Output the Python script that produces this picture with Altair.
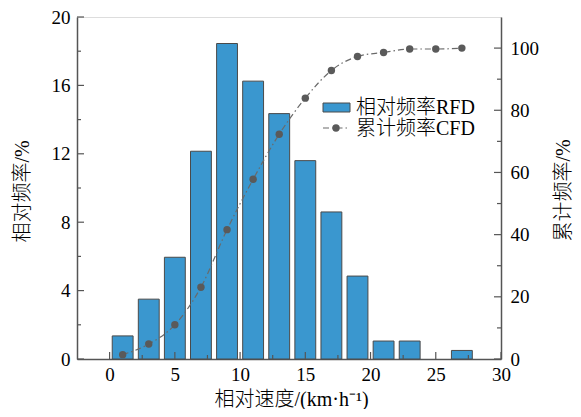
import altair as alt
import pandas as pd

# ---------------- data ----------------
speed = [1, 3, 5, 7, 9, 11, 13, 15, 17, 19, 21, 23, 25, 27]
rfd = [1.35, 3.5, 5.95, 12.15, 18.45, 16.25, 14.35, 11.6, 8.6, 4.85, 1.05, 1.05, 0, 0.5]
cfd = [1.4, 4.8, 11.0, 23.1, 41.6, 57.8, 72.3, 83.9, 92.8, 97.3, 98.6, 99.7, 99.7, 100]
series_names = ["相对频率RFD", "累计频率CFD"]
x_major = [0, 5, 10, 15, 20, 25, 30]
x_minor = [2.5, 7.5, 12.5, 17.5, 22.5, 27.5]
yl_major = [0, 4, 8, 12, 16, 20]
yl_minor = [2, 6, 10, 14, 18]
yr_major = [0, 20, 40, 60, 80, 100]
yr_minor = [10, 30, 50, 70, 90]
bar_half_width = 0.8

# ---------------- style ----------------
W, H = 424, 342
FONT = "Liberation Serif, Noto Sans CJK SC"
AX = "#555555"
BAR = "#3a97cf"
BAR_EDGE = "#4a4a4a"
LINE = "#6a6a6a"
DOT = "#5a5a5a"

df = pd.DataFrame({"speed": speed, "rfd": rfd, "cfd": cfd})
df["x0"] = df["speed"] - bar_half_width
df["x1"] = df["speed"] + bar_half_width
df["base"] = 0
bars_df = df[df["rfd"] > 0]

xs = alt.Scale(domain=[-2.5, 30], nice=False, zero=False)
yl = alt.Scale(domain=[0, 20], nice=False)
yr = alt.Scale(domain=[0, 110], nice=False)

common_axis = dict(grid=False, ticks=False, tickSize=0, domainColor=AX, domainWidth=1.5,
                   labelFont=FONT, labelFontSize=19, labelColor="black",
                   titleFont=FONT, titleFontSize=20, titleFontWeight=300,
                   titleColor="black", labelOverlap=False)

x_axis = alt.Axis(values=x_major, title="相对速度/(km·h⁻¹)", orient="bottom",
                  labelPadding=6, labelFlush=False, titleX=214, titleY=40,
                  titleBaseline="middle", titleAlign="center", **common_axis)
yl_axis = alt.Axis(values=yl_major, title="相对频率/%", orient="left",
                   labelPadding=7, titleX=-55, titleY=174, titleAngle=270,
                   titleAlign="center", titleBaseline="middle", **common_axis)
yr_axis = alt.Axis(values=yr_major, title="累计频率/%", orient="right",
                   labelPadding=9, titleX=62, titleY=173, titleAngle=270,
                   titleAlign="center", titleBaseline="middle", **common_axis)

# ---------------- left group ----------------
bars = alt.Chart(bars_df).mark_bar(color=BAR, stroke=BAR_EDGE, strokeWidth=1).encode(
    x=alt.X("x0:Q", scale=xs, axis=x_axis),
    x2="x1:Q",
    y=alt.Y("rfd:Q", scale=yl, axis=yl_axis),
    y2="base:Q",
)


def yticks(vals, scale, axis, x0, x1):
    return alt.Chart(pd.DataFrame({"v": vals})).mark_rule(color=AX, strokeWidth=1.2).encode(
        y=alt.Y("v:Q", scale=scale, axis=axis), x=alt.value(x0), x2=alt.value(x1))


def xticks(vals, length):
    return alt.Chart(pd.DataFrame({"v": vals})).mark_rule(color=AX, strokeWidth=1.2).encode(
        x=alt.X("v:Q", scale=xs, axis=x_axis), y=alt.value(H), y2=alt.value(H - length))


legend_rect = alt.Chart(pd.DataFrame({"name": [series_names[0]]})).mark_rect(
    fill=BAR, stroke=BAR_EDGE, strokeWidth=1).encode(
    x=alt.value(246), x2=alt.value(273), y=alt.value(86), y2=alt.value(95))
legend_line = alt.Chart(pd.DataFrame({"name": [series_names[1]]})).mark_rule(
    color=LINE, strokeWidth=1.2, strokeDash=[6, 3, 1.5, 3]).encode(
    x=alt.value(246), x2=alt.value(273), y=alt.value(111))
legend_dot = alt.Chart(pd.DataFrame({"name": [series_names[1]]})).mark_circle(
    color=DOT, size=55, opacity=1).encode(x=alt.value(259), y=alt.value(111))
legend_t1 = alt.Chart(pd.DataFrame({"name": [series_names[0]]})).mark_text(
    align="left", baseline="middle", font=FONT, fontSize=20, fontWeight=300,
    color="black").encode(x=alt.value(279), y=alt.value(91), text="name:N")
legend_t2 = alt.Chart(pd.DataFrame({"name": [series_names[1]]})).mark_text(
    align="left", baseline="middle", font=FONT, fontSize=20, fontWeight=300,
    color="black").encode(x=alt.value(279), y=alt.value(112), text="name:N")

left = alt.layer(
    bars,
    yticks(yl_major, yl, yl_axis, 0, 7),
    yticks(yl_minor, yl, yl_axis, 0, 4),
    xticks(x_major, 7),
    xticks(x_minor, 4),
    legend_rect, legend_line, legend_dot, legend_t1, legend_t2,
)

# ---------------- right group ----------------
line = alt.Chart(df).mark_line(color=LINE, strokeWidth=1.2, strokeDash=[6, 3, 1.5, 3],
                               interpolate="monotone").encode(
    x=alt.X("speed:Q", scale=xs, axis=x_axis),
    y=alt.Y("cfd:Q", scale=yr, axis=yr_axis),
)
dots = alt.Chart(df).mark_circle(color=DOT, size=55, opacity=1).encode(
    x=alt.X("speed:Q", scale=xs, axis=x_axis),
    y=alt.Y("cfd:Q", scale=yr, axis=yr_axis),
)
right = alt.layer(
    line, dots,
    yticks(yr_major, yr, yr_axis, W - 7, W),
    yticks(yr_minor, yr, yr_axis, W - 4, W),
)

chart = alt.layer(left, right).resolve_scale(y="independent").properties(
    width=W, height=H,
    autosize=alt.AutoSizeParams(type="none"),
    padding={"left": 69, "top": 9, "right": 72, "bottom": 50},
).configure_view(stroke=None).configure(background="white")

chart.save("out.html", embed_options={"renderer": "svg", "actions": False})
